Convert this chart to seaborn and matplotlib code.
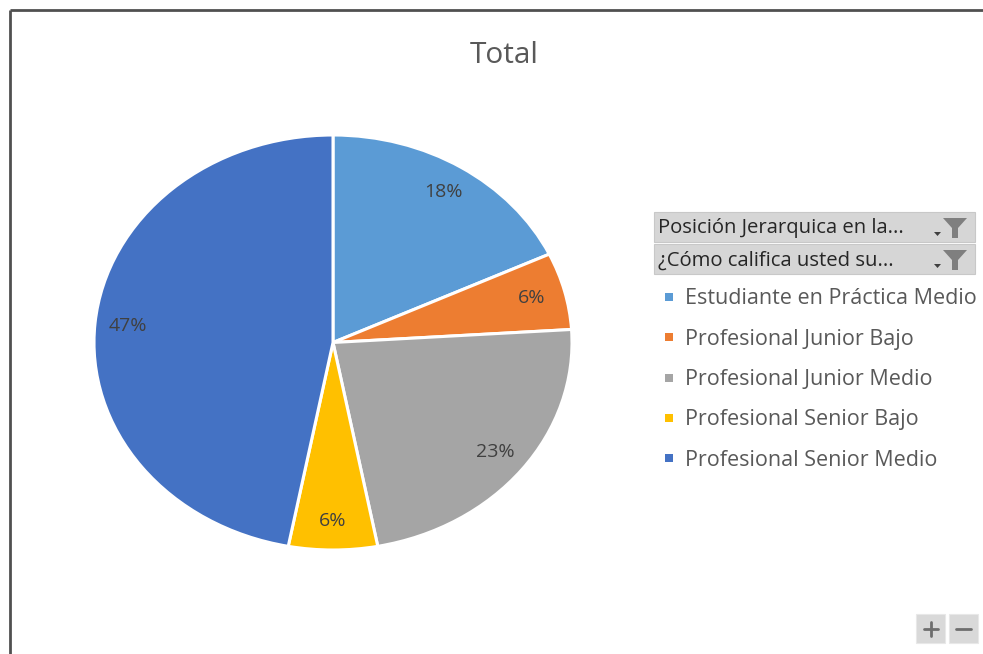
import matplotlib
matplotlib.use("Agg")
import matplotlib.pyplot as plt
import seaborn as sns
from matplotlib.patches import Rectangle, Polygon

categories = ["Estudiante en Práctica Medio", "Profesional Junior Bajo",
              "Profesional Junior Medio", "Profesional Senior Bajo",
              "Profesional Senior Medio"]
values = [18, 6, 23, 6, 47]
colors = ["#5B9BD5", "#ED7D31", "#A5A5A5", "#FFC000", "#4472C4"]
title = "Total"
filters = ["Posición Jerarquica en la...", "¿Cómo califica usted su..."]

sns.set_theme(style="white")
plt.rcParams['font.family'] = ['Open Sans', 'DejaVu Sans']

W, H = 983, 654
fig = plt.figure(figsize=(W / 100, H / 100), dpi=100)
fig.patch.set_facecolor("white")

# overlay axes in pixel coords
ov = fig.add_axes([0, 0, 1, 1])
ov.set_xlim(0, W)
ov.set_ylim(H, 0)
ov.axis("off")

# frame lines
ov.plot([10, W], [10, 10], color="#505050", lw=2, solid_capstyle="butt")
ov.plot([10, 10], [10, H], color="#505050", lw=2, solid_capstyle="butt")

# pie
cx0, cx1, cy0, cy1 = 94, 572, 135, 550
ax = fig.add_axes([cx0 / W, (H - cy1) / H, (cx1 - cx0) / W, (cy1 - cy0) / H])
wedges, texts, autotexts = ax.pie(
    values, colors=colors, startangle=90, counterclock=False,
    autopct=lambda p: f"{p:.0f}%", pctdistance=0.86,
    wedgeprops=dict(edgecolor="white", linewidth=2.2),
    textprops=dict(color="#404040", fontsize=14))
ax.set_aspect("auto")
ax.set_xlim(-1.0, 1.0)
ax.set_ylim(-1.0, 1.0)
ax.axis("off")

# title
ov.text(504, 63, title, ha="center", va="baseline", fontsize=21.5, color="#595959")

# filter buttons
for i, label in enumerate(filters):
    y0 = 212 + i * 32
    ov.add_patch(Rectangle((654, y0), 321, 30, facecolor="#D6D6D6",
                           edgecolor="#C8C8C8", lw=0.8))
    ov.text(658, y0 + 21.5, label, ha="left", va="baseline", fontsize=14.6,
            color="#262626")
    # dropdown arrow
    ov.add_patch(Polygon([[934, y0 + 20], [941, y0 + 20], [937.5, y0 + 24]],
                         closed=True, facecolor="#404040", edgecolor="none"))
    # funnel
    ov.add_patch(Polygon([[943, y0 + 6], [967, y0 + 6], [958, y0 + 16],
                          [958, y0 + 26], [952, y0 + 26], [952, y0 + 16]],
                         closed=True, facecolor="#7F7F7F", edgecolor="none"))

# legend entries
for i, (lab, col) in enumerate(zip(categories, colors)):
    y = 297 + i * 40.3
    ov.add_patch(Rectangle((665, y - 4), 8, 8, facecolor=col, edgecolor="none"))
    ov.text(685, y + 7.5, lab, ha="left", va="baseline", fontsize=15.5,
            color="#595959")

# zoom buttons
for x0 in [916, 949]:
    ov.add_patch(Rectangle((x0, 614), 29, 29, facecolor="#D9D9D9",
                           edgecolor="#E8E8E8", lw=0.8))
ov.plot([924, 938], [628.5, 628.5], color="#6E6E6E", lw=2)
ov.plot([931, 931], [621.5, 635.5], color="#6E6E6E", lw=2)
ov.plot([956, 971], [628.5, 628.5], color="#6E6E6E", lw=2)

fig.savefig("out.png", dpi=100, facecolor="white")
